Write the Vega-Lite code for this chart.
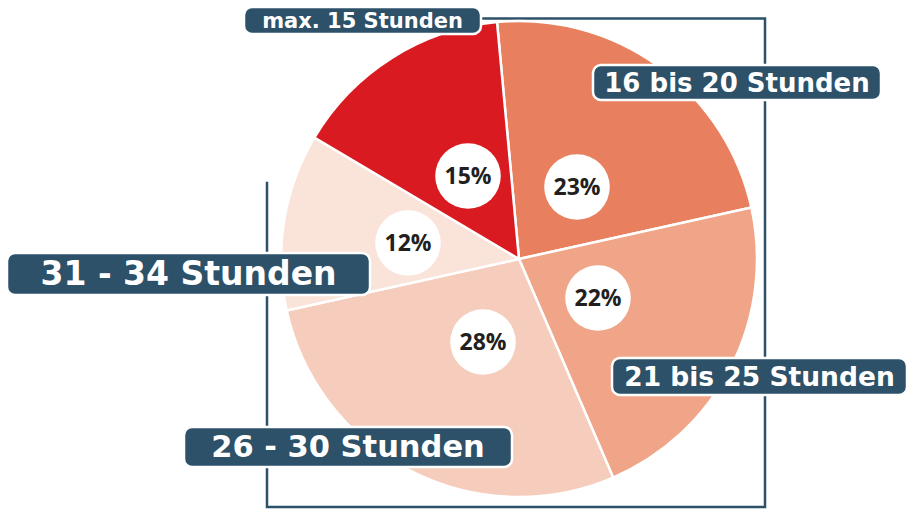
{
  "$schema": "https://vega.github.io/schema/vega-lite/v6.json",
  "width": 778,
  "height": 504,
  "autosize": "none",
  "padding": {"left": 130, "top": 7, "right": 0, "bottom": 0},
  "background": "white",
  "config": {"view": {"stroke": null}},
  "datasets": {
    "anteile": [
      {"Kategorie": "16 bis 20 Stunden", "Anteil": 23, "ord": 1},
      {"Kategorie": "21 bis 25 Stunden", "Anteil": 22, "ord": 2},
      {"Kategorie": "26 - 30 Stunden", "Anteil": 28, "ord": 3},
      {"Kategorie": "31 - 34 Stunden", "Anteil": 12, "ord": 4},
      {"Kategorie": "max. 15 Stunden", "Anteil": 15, "ord": 5}
    ],
    "kreise": [
      {"Kategorie": "16 bis 20 Stunden", "Anteil": 23, "x": 577, "y": 187},
      {"Kategorie": "21 bis 25 Stunden", "Anteil": 22, "x": 598, "y": 298},
      {"Kategorie": "26 - 30 Stunden", "Anteil": 28, "x": 483, "y": 342},
      {"Kategorie": "31 - 34 Stunden", "Anteil": 12, "x": 408, "y": 243},
      {"Kategorie": "max. 15 Stunden", "Anteil": 15, "x": 468, "y": 176}
    ],
    "etiketten": [
      {"Kategorie": "max. 15 Stunden", "x1": 244, "x2": 481, "y1": 7, "y2": 34},
      {"Kategorie": "16 bis 20 Stunden", "x1": 593, "x2": 881, "y1": 65, "y2": 100},
      {"Kategorie": "21 bis 25 Stunden", "x1": 612, "x2": 907, "y1": 358, "y2": 395},
      {"Kategorie": "26 - 30 Stunden", "x1": 184, "x2": 512, "y1": 427, "y2": 467},
      {"Kategorie": "31 - 34 Stunden", "x1": 7, "x2": 370, "y1": 253, "y2": 295}
    ],
    "rahmen": [
      {"x": 460, "y": 18.5, "i": 1},
      {"x": 765, "y": 18.5, "i": 2},
      {"x": 765, "y": 507, "i": 3},
      {"x": 267, "y": 507, "i": 4},
      {"x": 267, "y": 183, "i": 5}
    ]
  },
  "layer": [
    {
      "data": {"name": "rahmen"},
      "mark": {"type": "line", "color": "#2D5168", "strokeWidth": 2.5, "strokeCap": "square"},
      "encoding": {
        "x": {"field": "x", "type": "quantitative", "axis": null, "scale": {"domain": [130, 908], "nice": false, "zero": false}},
        "y": {"field": "y", "type": "quantitative", "axis": null, "scale": {"domain": [7, 511], "reverse": true, "nice": false, "zero": false}},
        "order": {"field": "i", "type": "quantitative"}
      }
    },
    {
      "data": {"name": "anteile"},
      "mark": {"type": "arc", "outerRadius": 238, "stroke": "white", "strokeWidth": 2.5},
      "encoding": {
        "theta": {"field": "Anteil", "type": "quantitative", "stack": true, "scale": {"range": [-0.0925, 6.1907]}},
        "color": {
          "field": "Kategorie", "type": "nominal", "legend": null,
          "scale": {
            "domain": ["max. 15 Stunden", "16 bis 20 Stunden", "21 bis 25 Stunden", "26 - 30 Stunden", "31 - 34 Stunden"],
            "range": ["#DA1A21", "#E8805F", "#F0A588", "#F6CCBD", "#FAE3D9"]
          }
        },
        "order": {"field": "ord", "type": "quantitative"}
      }
    },
    {
      "data": {"name": "kreise"},
      "mark": {"type": "point", "shape": "circle", "filled": true, "color": "white", "opacity": 1, "size": 4300},
      "encoding": {
        "x": {"field": "x", "type": "quantitative", "axis": null, "scale": {"domain": [130, 908], "nice": false, "zero": false}},
        "y": {"field": "y", "type": "quantitative", "axis": null, "scale": {"domain": [7, 511], "reverse": true, "nice": false, "zero": false}}
      }
    },
    {
      "data": {"name": "kreise"},
      "transform": [{"calculate": "datum.Anteil + '%'", "as": "Label"}],
      "mark": {"type": "text", "font": "Open Sans", "fontWeight": "bold", "fontSize": 23, "color": "#231F20", "baseline": "middle", "align": "center", "dy": 1},
      "encoding": {
        "x": {"field": "x", "type": "quantitative", "axis": null, "scale": {"domain": [130, 908], "nice": false, "zero": false}},
        "y": {"field": "y", "type": "quantitative", "axis": null, "scale": {"domain": [7, 511], "reverse": true, "nice": false, "zero": false}},
        "text": {"field": "Label", "type": "nominal"}
      }
    },
    {
      "data": {"name": "etiketten"},
      "mark": {"type": "rect", "fill": "#2D5168", "stroke": "white", "strokeWidth": 2.5, "cornerRadius": 8},
      "encoding": {
        "x": {"field": "x1", "type": "quantitative", "axis": null, "scale": {"domain": [130, 908], "nice": false, "zero": false}},
        "x2": {"field": "x2"},
        "y": {"field": "y1", "type": "quantitative", "axis": null, "scale": {"domain": [7, 511], "reverse": true, "nice": false, "zero": false}},
        "y2": {"field": "y2"}
      }
    },
    {
      "data": {"name": "etiketten"},
      "transform": [
        {"calculate": "(datum.x1 + datum.x2) / 2", "as": "mx"},
        {"calculate": "(datum.y1 + datum.y2) / 2", "as": "my"}
      ],
      "mark": {"type": "text", "font": "DejaVu Sans", "fontWeight": "bold", "color": "white", "baseline": "middle", "align": "center", "dy": 1},
      "encoding": {
        "x": {"field": "mx", "type": "quantitative", "axis": null, "scale": {"domain": [130, 908], "nice": false, "zero": false}},
        "y": {"field": "my", "type": "quantitative", "axis": null, "scale": {"domain": [7, 511], "reverse": true, "nice": false, "zero": false}},
        "text": {"field": "Kategorie", "type": "nominal"},
        "size": {
          "field": "Kategorie", "type": "nominal", "legend": null,
          "scale": {
            "type": "ordinal",
            "domain": ["max. 15 Stunden", "16 bis 20 Stunden", "21 bis 25 Stunden", "26 - 30 Stunden", "31 - 34 Stunden"],
            "range": [21, 26, 26.5, 30.5, 33]
          }
        }
      }
    }
  ]
}
